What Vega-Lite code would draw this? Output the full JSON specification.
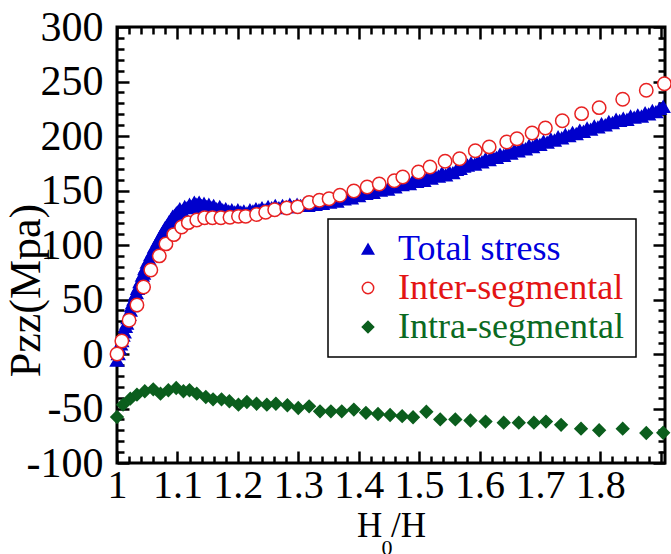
{
  "$schema": "https://vega.github.io/schema/vega-lite/v6.json",
  "width": 548,
  "height": 436,
  "autosize": "none",
  "padding": {"left": 117, "top": 27, "right": 6, "bottom": 91},
  "config": {
    "view": {"stroke": "black", "strokeWidth": 3},
    "font": "Liberation Serif",
    "legend": {"strokeWidth": 1.5}
  },
  "title": {"text": "0", "orient": "bottom", "font": "Liberation Serif", "fontSize": 22, "fontWeight": "normal", "color": "black", "offset": -5, "dx": -4},
  "data": {"values": [
    {"series": "Total stress", "ratio": 1.000, "pzz": -6},
    {"series": "Total stress", "ratio": 1.002, "pzz": 0},
    {"series": "Total stress", "ratio": 1.004, "pzz": 5},
    {"series": "Total stress", "ratio": 1.006, "pzz": 9},
    {"series": "Total stress", "ratio": 1.008, "pzz": 12},
    {"series": "Total stress", "ratio": 1.010, "pzz": 17},
    {"series": "Total stress", "ratio": 1.012, "pzz": 20},
    {"series": "Total stress", "ratio": 1.014, "pzz": 25},
    {"series": "Total stress", "ratio": 1.016, "pzz": 28},
    {"series": "Total stress", "ratio": 1.018, "pzz": 33},
    {"series": "Total stress", "ratio": 1.020, "pzz": 36},
    {"series": "Total stress", "ratio": 1.022, "pzz": 40},
    {"series": "Total stress", "ratio": 1.024, "pzz": 44},
    {"series": "Total stress", "ratio": 1.026, "pzz": 47},
    {"series": "Total stress", "ratio": 1.028, "pzz": 50},
    {"series": "Total stress", "ratio": 1.030, "pzz": 54},
    {"series": "Total stress", "ratio": 1.032, "pzz": 56},
    {"series": "Total stress", "ratio": 1.034, "pzz": 60},
    {"series": "Total stress", "ratio": 1.036, "pzz": 62},
    {"series": "Total stress", "ratio": 1.038, "pzz": 66},
    {"series": "Total stress", "ratio": 1.040, "pzz": 68},
    {"series": "Total stress", "ratio": 1.042, "pzz": 72},
    {"series": "Total stress", "ratio": 1.044, "pzz": 74},
    {"series": "Total stress", "ratio": 1.046, "pzz": 78},
    {"series": "Total stress", "ratio": 1.048, "pzz": 80},
    {"series": "Total stress", "ratio": 1.050, "pzz": 84},
    {"series": "Total stress", "ratio": 1.053, "pzz": 87},
    {"series": "Total stress", "ratio": 1.056, "pzz": 91},
    {"series": "Total stress", "ratio": 1.059, "pzz": 94},
    {"series": "Total stress", "ratio": 1.062, "pzz": 98},
    {"series": "Total stress", "ratio": 1.065, "pzz": 100},
    {"series": "Total stress", "ratio": 1.068, "pzz": 104},
    {"series": "Total stress", "ratio": 1.071, "pzz": 107},
    {"series": "Total stress", "ratio": 1.074, "pzz": 110},
    {"series": "Total stress", "ratio": 1.077, "pzz": 113},
    {"series": "Total stress", "ratio": 1.080, "pzz": 116},
    {"series": "Total stress", "ratio": 1.083, "pzz": 118},
    {"series": "Total stress", "ratio": 1.086, "pzz": 121},
    {"series": "Total stress", "ratio": 1.089, "pzz": 123},
    {"series": "Total stress", "ratio": 1.092, "pzz": 126},
    {"series": "Total stress", "ratio": 1.095, "pzz": 127},
    {"series": "Total stress", "ratio": 1.098, "pzz": 129},
    {"series": "Total stress", "ratio": 1.100, "pzz": 130},
    {"series": "Total stress", "ratio": 1.104, "pzz": 133},
    {"series": "Total stress", "ratio": 1.108, "pzz": 131},
    {"series": "Total stress", "ratio": 1.112, "pzz": 135},
    {"series": "Total stress", "ratio": 1.116, "pzz": 134},
    {"series": "Total stress", "ratio": 1.120, "pzz": 137},
    {"series": "Total stress", "ratio": 1.124, "pzz": 135},
    {"series": "Total stress", "ratio": 1.128, "pzz": 139},
    {"series": "Total stress", "ratio": 1.132, "pzz": 137},
    {"series": "Total stress", "ratio": 1.136, "pzz": 139},
    {"series": "Total stress", "ratio": 1.140, "pzz": 136},
    {"series": "Total stress", "ratio": 1.144, "pzz": 138},
    {"series": "Total stress", "ratio": 1.148, "pzz": 135},
    {"series": "Total stress", "ratio": 1.152, "pzz": 137},
    {"series": "Total stress", "ratio": 1.156, "pzz": 134},
    {"series": "Total stress", "ratio": 1.160, "pzz": 136},
    {"series": "Total stress", "ratio": 1.165, "pzz": 133},
    {"series": "Total stress", "ratio": 1.170, "pzz": 135},
    {"series": "Total stress", "ratio": 1.175, "pzz": 132},
    {"series": "Total stress", "ratio": 1.180, "pzz": 133},
    {"series": "Total stress", "ratio": 1.185, "pzz": 131},
    {"series": "Total stress", "ratio": 1.190, "pzz": 132},
    {"series": "Total stress", "ratio": 1.195, "pzz": 130},
    {"series": "Total stress", "ratio": 1.200, "pzz": 132},
    {"series": "Total stress", "ratio": 1.205, "pzz": 130},
    {"series": "Total stress", "ratio": 1.210, "pzz": 131},
    {"series": "Total stress", "ratio": 1.215, "pzz": 129},
    {"series": "Total stress", "ratio": 1.220, "pzz": 132},
    {"series": "Total stress", "ratio": 1.225, "pzz": 131},
    {"series": "Total stress", "ratio": 1.230, "pzz": 133},
    {"series": "Total stress", "ratio": 1.235, "pzz": 132},
    {"series": "Total stress", "ratio": 1.240, "pzz": 134},
    {"series": "Total stress", "ratio": 1.245, "pzz": 132},
    {"series": "Total stress", "ratio": 1.250, "pzz": 135},
    {"series": "Total stress", "ratio": 1.256, "pzz": 134},
    {"series": "Total stress", "ratio": 1.262, "pzz": 136},
    {"series": "Total stress", "ratio": 1.268, "pzz": 134},
    {"series": "Total stress", "ratio": 1.274, "pzz": 136},
    {"series": "Total stress", "ratio": 1.280, "pzz": 135},
    {"series": "Total stress", "ratio": 1.286, "pzz": 137},
    {"series": "Total stress", "ratio": 1.292, "pzz": 135},
    {"series": "Total stress", "ratio": 1.298, "pzz": 137},
    {"series": "Total stress", "ratio": 1.304, "pzz": 136},
    {"series": "Total stress", "ratio": 1.310, "pzz": 138},
    {"series": "Total stress", "ratio": 1.316, "pzz": 136},
    {"series": "Total stress", "ratio": 1.322, "pzz": 138},
    {"series": "Total stress", "ratio": 1.328, "pzz": 137},
    {"series": "Total stress", "ratio": 1.334, "pzz": 139},
    {"series": "Total stress", "ratio": 1.340, "pzz": 138},
    {"series": "Total stress", "ratio": 1.346, "pzz": 140},
    {"series": "Total stress", "ratio": 1.352, "pzz": 139},
    {"series": "Total stress", "ratio": 1.358, "pzz": 141},
    {"series": "Total stress", "ratio": 1.364, "pzz": 140},
    {"series": "Total stress", "ratio": 1.370, "pzz": 143},
    {"series": "Total stress", "ratio": 1.376, "pzz": 142},
    {"series": "Total stress", "ratio": 1.382, "pzz": 144},
    {"series": "Total stress", "ratio": 1.388, "pzz": 143},
    {"series": "Total stress", "ratio": 1.394, "pzz": 146},
    {"series": "Total stress", "ratio": 1.400, "pzz": 145},
    {"series": "Total stress", "ratio": 1.406, "pzz": 148},
    {"series": "Total stress", "ratio": 1.412, "pzz": 147},
    {"series": "Total stress", "ratio": 1.418, "pzz": 149},
    {"series": "Total stress", "ratio": 1.424, "pzz": 148},
    {"series": "Total stress", "ratio": 1.430, "pzz": 151},
    {"series": "Total stress", "ratio": 1.436, "pzz": 150},
    {"series": "Total stress", "ratio": 1.442, "pzz": 153},
    {"series": "Total stress", "ratio": 1.448, "pzz": 151},
    {"series": "Total stress", "ratio": 1.454, "pzz": 154},
    {"series": "Total stress", "ratio": 1.460, "pzz": 153},
    {"series": "Total stress", "ratio": 1.466, "pzz": 156},
    {"series": "Total stress", "ratio": 1.472, "pzz": 155},
    {"series": "Total stress", "ratio": 1.478, "pzz": 158},
    {"series": "Total stress", "ratio": 1.484, "pzz": 156},
    {"series": "Total stress", "ratio": 1.490, "pzz": 159},
    {"series": "Total stress", "ratio": 1.496, "pzz": 158},
    {"series": "Total stress", "ratio": 1.502, "pzz": 161},
    {"series": "Total stress", "ratio": 1.508, "pzz": 159},
    {"series": "Total stress", "ratio": 1.514, "pzz": 162},
    {"series": "Total stress", "ratio": 1.520, "pzz": 161},
    {"series": "Total stress", "ratio": 1.526, "pzz": 164},
    {"series": "Total stress", "ratio": 1.532, "pzz": 163},
    {"series": "Total stress", "ratio": 1.538, "pzz": 166},
    {"series": "Total stress", "ratio": 1.544, "pzz": 164},
    {"series": "Total stress", "ratio": 1.550, "pzz": 167},
    {"series": "Total stress", "ratio": 1.556, "pzz": 166},
    {"series": "Total stress", "ratio": 1.562, "pzz": 169},
    {"series": "Total stress", "ratio": 1.568, "pzz": 170},
    {"series": "Total stress", "ratio": 1.574, "pzz": 172},
    {"series": "Total stress", "ratio": 1.580, "pzz": 173},
    {"series": "Total stress", "ratio": 1.586, "pzz": 175},
    {"series": "Total stress", "ratio": 1.592, "pzz": 174},
    {"series": "Total stress", "ratio": 1.598, "pzz": 177},
    {"series": "Total stress", "ratio": 1.604, "pzz": 176},
    {"series": "Total stress", "ratio": 1.610, "pzz": 179},
    {"series": "Total stress", "ratio": 1.616, "pzz": 178},
    {"series": "Total stress", "ratio": 1.622, "pzz": 181},
    {"series": "Total stress", "ratio": 1.628, "pzz": 180},
    {"series": "Total stress", "ratio": 1.634, "pzz": 183},
    {"series": "Total stress", "ratio": 1.640, "pzz": 182},
    {"series": "Total stress", "ratio": 1.646, "pzz": 185},
    {"series": "Total stress", "ratio": 1.652, "pzz": 184},
    {"series": "Total stress", "ratio": 1.658, "pzz": 187},
    {"series": "Total stress", "ratio": 1.664, "pzz": 186},
    {"series": "Total stress", "ratio": 1.670, "pzz": 189},
    {"series": "Total stress", "ratio": 1.676, "pzz": 188},
    {"series": "Total stress", "ratio": 1.682, "pzz": 191},
    {"series": "Total stress", "ratio": 1.688, "pzz": 190},
    {"series": "Total stress", "ratio": 1.694, "pzz": 193},
    {"series": "Total stress", "ratio": 1.700, "pzz": 192},
    {"series": "Total stress", "ratio": 1.706, "pzz": 195},
    {"series": "Total stress", "ratio": 1.712, "pzz": 194},
    {"series": "Total stress", "ratio": 1.718, "pzz": 197},
    {"series": "Total stress", "ratio": 1.724, "pzz": 196},
    {"series": "Total stress", "ratio": 1.730, "pzz": 199},
    {"series": "Total stress", "ratio": 1.736, "pzz": 198},
    {"series": "Total stress", "ratio": 1.742, "pzz": 201},
    {"series": "Total stress", "ratio": 1.748, "pzz": 200},
    {"series": "Total stress", "ratio": 1.754, "pzz": 203},
    {"series": "Total stress", "ratio": 1.760, "pzz": 202},
    {"series": "Total stress", "ratio": 1.766, "pzz": 205},
    {"series": "Total stress", "ratio": 1.772, "pzz": 204},
    {"series": "Total stress", "ratio": 1.778, "pzz": 207},
    {"series": "Total stress", "ratio": 1.784, "pzz": 206},
    {"series": "Total stress", "ratio": 1.790, "pzz": 209},
    {"series": "Total stress", "ratio": 1.796, "pzz": 208},
    {"series": "Total stress", "ratio": 1.802, "pzz": 211},
    {"series": "Total stress", "ratio": 1.808, "pzz": 210},
    {"series": "Total stress", "ratio": 1.814, "pzz": 213},
    {"series": "Total stress", "ratio": 1.820, "pzz": 212},
    {"series": "Total stress", "ratio": 1.826, "pzz": 215},
    {"series": "Total stress", "ratio": 1.832, "pzz": 214},
    {"series": "Total stress", "ratio": 1.838, "pzz": 216},
    {"series": "Total stress", "ratio": 1.844, "pzz": 215},
    {"series": "Total stress", "ratio": 1.850, "pzz": 218},
    {"series": "Total stress", "ratio": 1.856, "pzz": 217},
    {"series": "Total stress", "ratio": 1.862, "pzz": 219},
    {"series": "Total stress", "ratio": 1.868, "pzz": 218},
    {"series": "Total stress", "ratio": 1.874, "pzz": 221},
    {"series": "Total stress", "ratio": 1.880, "pzz": 220},
    {"series": "Total stress", "ratio": 1.886, "pzz": 223},
    {"series": "Total stress", "ratio": 1.892, "pzz": 222},
    {"series": "Total stress", "ratio": 1.898, "pzz": 225},
    {"series": "Total stress", "ratio": 1.904, "pzz": 227},
    {"series": "Inter-segmental", "ratio": 1.000, "pzz": 0},
    {"series": "Inter-segmental", "ratio": 1.008, "pzz": 12},
    {"series": "Inter-segmental", "ratio": 1.020, "pzz": 31},
    {"series": "Inter-segmental", "ratio": 1.033, "pzz": 45},
    {"series": "Inter-segmental", "ratio": 1.044, "pzz": 61.5},
    {"series": "Inter-segmental", "ratio": 1.056, "pzz": 77},
    {"series": "Inter-segmental", "ratio": 1.070, "pzz": 90},
    {"series": "Inter-segmental", "ratio": 1.081, "pzz": 101},
    {"series": "Inter-segmental", "ratio": 1.094, "pzz": 109.5},
    {"series": "Inter-segmental", "ratio": 1.107, "pzz": 116.5},
    {"series": "Inter-segmental", "ratio": 1.118, "pzz": 120.5},
    {"series": "Inter-segmental", "ratio": 1.132, "pzz": 123},
    {"series": "Inter-segmental", "ratio": 1.145, "pzz": 125},
    {"series": "Inter-segmental", "ratio": 1.158, "pzz": 125},
    {"series": "Inter-segmental", "ratio": 1.172, "pzz": 125},
    {"series": "Inter-segmental", "ratio": 1.187, "pzz": 125.5},
    {"series": "Inter-segmental", "ratio": 1.201, "pzz": 126.3},
    {"series": "Inter-segmental", "ratio": 1.213, "pzz": 126.3},
    {"series": "Inter-segmental", "ratio": 1.231, "pzz": 128},
    {"series": "Inter-segmental", "ratio": 1.246, "pzz": 130},
    {"series": "Inter-segmental", "ratio": 1.261, "pzz": 132.4},
    {"series": "Inter-segmental", "ratio": 1.281, "pzz": 134},
    {"series": "Inter-segmental", "ratio": 1.299, "pzz": 135},
    {"series": "Inter-segmental", "ratio": 1.318, "pzz": 139},
    {"series": "Inter-segmental", "ratio": 1.335, "pzz": 141},
    {"series": "Inter-segmental", "ratio": 1.351, "pzz": 142.5},
    {"series": "Inter-segmental", "ratio": 1.369, "pzz": 145.6},
    {"series": "Inter-segmental", "ratio": 1.392, "pzz": 149.5},
    {"series": "Inter-segmental", "ratio": 1.414, "pzz": 153.2},
    {"series": "Inter-segmental", "ratio": 1.434, "pzz": 156},
    {"series": "Inter-segmental", "ratio": 1.459, "pzz": 159},
    {"series": "Inter-segmental", "ratio": 1.473, "pzz": 162.4},
    {"series": "Inter-segmental", "ratio": 1.499, "pzz": 167},
    {"series": "Inter-segmental", "ratio": 1.518, "pzz": 171.6},
    {"series": "Inter-segmental", "ratio": 1.543, "pzz": 176.8},
    {"series": "Inter-segmental", "ratio": 1.567, "pzz": 179.2},
    {"series": "Inter-segmental", "ratio": 1.593, "pzz": 186.5},
    {"series": "Inter-segmental", "ratio": 1.616, "pzz": 190},
    {"series": "Inter-segmental", "ratio": 1.645, "pzz": 194.5},
    {"series": "Inter-segmental", "ratio": 1.662, "pzz": 197.5},
    {"series": "Inter-segmental", "ratio": 1.687, "pzz": 202.8},
    {"series": "Inter-segmental", "ratio": 1.709, "pzz": 207.3},
    {"series": "Inter-segmental", "ratio": 1.737, "pzz": 214},
    {"series": "Inter-segmental", "ratio": 1.769, "pzz": 220.5},
    {"series": "Inter-segmental", "ratio": 1.798, "pzz": 226},
    {"series": "Inter-segmental", "ratio": 1.837, "pzz": 233.7},
    {"series": "Inter-segmental", "ratio": 1.876, "pzz": 242},
    {"series": "Inter-segmental", "ratio": 1.906, "pzz": 248},
    {"series": "Intra-segmental", "ratio": 1.000, "pzz": -57.8},
    {"series": "Intra-segmental", "ratio": 1.010, "pzz": -46.5},
    {"series": "Intra-segmental", "ratio": 1.022, "pzz": -41},
    {"series": "Intra-segmental", "ratio": 1.033, "pzz": -37.3},
    {"series": "Intra-segmental", "ratio": 1.046, "pzz": -34.2},
    {"series": "Intra-segmental", "ratio": 1.060, "pzz": -32.4},
    {"series": "Intra-segmental", "ratio": 1.072, "pzz": -36.4},
    {"series": "Intra-segmental", "ratio": 1.085, "pzz": -33.3},
    {"series": "Intra-segmental", "ratio": 1.098, "pzz": -31.2},
    {"series": "Intra-segmental", "ratio": 1.110, "pzz": -34.2},
    {"series": "Intra-segmental", "ratio": 1.120, "pzz": -33.3},
    {"series": "Intra-segmental", "ratio": 1.132, "pzz": -36.4},
    {"series": "Intra-segmental", "ratio": 1.147, "pzz": -39.4},
    {"series": "Intra-segmental", "ratio": 1.159, "pzz": -41.6},
    {"series": "Intra-segmental", "ratio": 1.173, "pzz": -41.6},
    {"series": "Intra-segmental", "ratio": 1.186, "pzz": -43.4},
    {"series": "Intra-segmental", "ratio": 1.201, "pzz": -46.5},
    {"series": "Intra-segmental", "ratio": 1.215, "pzz": -44},
    {"series": "Intra-segmental", "ratio": 1.231, "pzz": -45.6},
    {"series": "Intra-segmental", "ratio": 1.248, "pzz": -46.5},
    {"series": "Intra-segmental", "ratio": 1.263, "pzz": -45.6},
    {"series": "Intra-segmental", "ratio": 1.282, "pzz": -47},
    {"series": "Intra-segmental", "ratio": 1.300, "pzz": -49.5},
    {"series": "Intra-segmental", "ratio": 1.318, "pzz": -48},
    {"series": "Intra-segmental", "ratio": 1.336, "pzz": -52.6},
    {"series": "Intra-segmental", "ratio": 1.354, "pzz": -52.6},
    {"series": "Intra-segmental", "ratio": 1.372, "pzz": -52.6},
    {"series": "Intra-segmental", "ratio": 1.392, "pzz": -51},
    {"series": "Intra-segmental", "ratio": 1.412, "pzz": -54},
    {"series": "Intra-segmental", "ratio": 1.432, "pzz": -55},
    {"series": "Intra-segmental", "ratio": 1.452, "pzz": -56},
    {"series": "Intra-segmental", "ratio": 1.472, "pzz": -57},
    {"series": "Intra-segmental", "ratio": 1.490, "pzz": -58},
    {"series": "Intra-segmental", "ratio": 1.512, "pzz": -53},
    {"series": "Intra-segmental", "ratio": 1.535, "pzz": -60},
    {"series": "Intra-segmental", "ratio": 1.560, "pzz": -60},
    {"series": "Intra-segmental", "ratio": 1.585, "pzz": -61},
    {"series": "Intra-segmental", "ratio": 1.610, "pzz": -62},
    {"series": "Intra-segmental", "ratio": 1.640, "pzz": -63},
    {"series": "Intra-segmental", "ratio": 1.665, "pzz": -63},
    {"series": "Intra-segmental", "ratio": 1.690, "pzz": -63},
    {"series": "Intra-segmental", "ratio": 1.710, "pzz": -62},
    {"series": "Intra-segmental", "ratio": 1.735, "pzz": -65},
    {"series": "Intra-segmental", "ratio": 1.768, "pzz": -68.5},
    {"series": "Intra-segmental", "ratio": 1.798, "pzz": -70},
    {"series": "Intra-segmental", "ratio": 1.837, "pzz": -68.5},
    {"series": "Intra-segmental", "ratio": 1.876, "pzz": -72.5},
    {"series": "Intra-segmental", "ratio": 1.904, "pzz": -72.2}
  ]},
  "layer": [
    {
      "transform": [{"filter": "datum.series != 'Intra-segmental'"}],
      "mark": {"type": "point", "opacity": 1, "strokeWidth": 1.5},
      "encoding": {
        "x": {
          "field": "ratio", "type": "quantitative",
          "scale": {"domain": [1, 1.907], "nice": false, "zero": false},
          "axis": {
            "orient": "bottom",
            "values": [1,1.02,1.04,1.06,1.08,1.1,1.12,1.14,1.16,1.18,1.2,1.22,1.24,1.26,1.28,1.3,1.32,1.34,1.36,1.38,1.4,1.42,1.44,1.46,1.48,1.5,1.52,1.54,1.56,1.58,1.6,1.62,1.64,1.66,1.68,1.7,1.72,1.74,1.76,1.78,1.8,1.82,1.84,1.86,1.88,1.9],
            "domain": false, "grid": false,
            "tickColor": "black", "tickWidth": 2.5,
            "tickSize": {"condition": {"test": "abs(datum.value*10 - round(datum.value*10)) < 0.001", "value": -12}, "value": -7},
            "labelExpr": "abs(datum.value*10 - round(datum.value*10)) < 0.001 && datum.value < 1.85 ? toString(datum.value) : ''",
            "labelFont": "Liberation Serif", "labelFontSize": 40, "labelColor": "black",
            "labelPadding": 14, "labelFlush": false, "labelOverlap": false,
            "title": "H /H", "titleFont": "Liberation Serif", "titleFontSize": 35, "titleFontWeight": "normal", "titleColor": "black", "titlePadding": -2
          }
        },
        "y": {
          "field": "pzz", "type": "quantitative",
          "scale": {"domain": [-100, 300], "nice": false, "zero": false},
          "axis": {
            "orient": "left",
            "values": [-100,-90,-80,-70,-60,-50,-40,-30,-20,-10,0,10,20,30,40,50,60,70,80,90,100,110,120,130,140,150,160,170,180,190,200,210,220,230,240,250,260,270,280,290,300],
            "domain": false, "grid": false,
            "tickColor": "black", "tickWidth": 2.5,
            "tickSize": {"condition": {"test": "datum.value % 50 == 0", "value": -12}, "value": -7},
            "labelExpr": "datum.value % 50 == 0 ? toString(datum.value) : ''",
            "labelFont": "Liberation Serif", "labelFontSize": 42, "labelColor": "black",
            "labelPadding": 26, "labelFlush": false, "labelOverlap": false,
            "title": "Pzz(Mpa)", "titleFont": "Liberation Serif", "titleFontSize": 44, "titleFontWeight": "normal", "titleColor": "black",
            "titleX": -91, "titleY": 263, "titleBaseline": "middle", "titleAngle": 270, "titleAlign": "center"
          }
        },
        "fill": {
          "field": "series", "type": "nominal",
          "scale": {"domain": ["Total stress", "Inter-segmental", "Intra-segmental"], "range": ["#0000cc", "#ffffff", "#0b5e1d"]},
          "legend": {"orient": "none", "legendX": 211, "legendY": 192, "title": null, "padding": 12, "strokeColor": "black", "fillColor": "white", "symbolSize": 130, "symbolStrokeWidth": 1.5, "symbolOffset": 10, "labelOffset": 12, "labelFont": "Liberation Serif", "labelFontSize": 36, "labelLimit": 400, "rowPadding": 3, "labelColor": {"expr": "datum.value == 'Total stress' ? '#0000dd' : datum.value == 'Inter-segmental' ? '#e31414' : '#0b6a22'"}}
        },
        "stroke": {
          "field": "series", "type": "nominal",
          "scale": {"domain": ["Total stress", "Inter-segmental", "Intra-segmental"], "range": ["#0000cc", "#e82222", "#0b5e1d"]},
          "legend": {"orient": "none", "legendX": 211, "legendY": 192, "title": null, "padding": 12, "strokeColor": "black", "fillColor": "white", "symbolSize": 130, "symbolStrokeWidth": 1.5, "symbolOffset": 10, "labelOffset": 12, "labelFont": "Liberation Serif", "labelFontSize": 36, "labelLimit": 400, "rowPadding": 3, "labelColor": {"expr": "datum.value == 'Total stress' ? '#0000dd' : datum.value == 'Inter-segmental' ? '#e31414' : '#0b6a22'"}}
        },
        "shape": {
          "field": "series", "type": "nominal",
          "scale": {"domain": ["Total stress", "Inter-segmental", "Intra-segmental"], "range": ["triangle-up", "circle", "diamond"]},
          "legend": {"orient": "none", "legendX": 211, "legendY": 192, "title": null, "padding": 12, "strokeColor": "black", "fillColor": "white", "symbolSize": 130, "symbolStrokeWidth": 1.5, "symbolOffset": 10, "labelOffset": 12, "labelFont": "Liberation Serif", "labelFontSize": 36, "labelLimit": 400, "rowPadding": 3, "labelColor": {"expr": "datum.value == 'Total stress' ? '#0000dd' : datum.value == 'Inter-segmental' ? '#e31414' : '#0b6a22'"}}
        },
        "size": {
          "field": "series", "type": "nominal",
          "scale": {"domain": ["Inter-segmental", "Total stress", "Intra-segmental"], "range": [180, 150, 210]},
          "legend": null
        }
      }
    },
    {
      "transform": [{"filter": "datum.series == 'Intra-segmental'"}],
      "mark": {"type": "point", "opacity": 1, "strokeWidth": 1.5},
      "encoding": {
        "x": {
          "field": "ratio", "type": "quantitative",
          "scale": {"domain": [1, 1.907], "nice": false, "zero": false},
          "axis": {
            "orient": "top",
            "values": [1,1.02,1.04,1.06,1.08,1.1,1.12,1.14,1.16,1.18,1.2,1.22,1.24,1.26,1.28,1.3,1.32,1.34,1.36,1.38,1.4,1.42,1.44,1.46,1.48,1.5,1.52,1.54,1.56,1.58,1.6,1.62,1.64,1.66,1.68,1.7,1.72,1.74,1.76,1.78,1.8,1.82,1.84,1.86,1.88,1.9],
            "domain": false, "grid": false, "labels": false, "title": null,
            "tickColor": "black", "tickWidth": 2.5,
            "tickSize": {"condition": {"test": "abs(datum.value*10 - round(datum.value*10)) < 0.001", "value": -12}, "value": -7}
          }
        },
        "y": {
          "field": "pzz", "type": "quantitative",
          "scale": {"domain": [-100, 300], "nice": false, "zero": false},
          "axis": {
            "orient": "right",
            "values": [-100,-90,-80,-70,-60,-50,-40,-30,-20,-10,0,10,20,30,40,50,60,70,80,90,100,110,120,130,140,150,160,170,180,190,200,210,220,230,240,250,260,270,280,290,300],
            "domain": false, "grid": false, "labels": false, "title": null,
            "tickColor": "black", "tickWidth": 2.5,
            "tickSize": {"condition": {"test": "datum.value % 50 == 0", "value": -12}, "value": -7}
          }
        },
        "fill": {
          "field": "series", "type": "nominal",
          "scale": {"domain": ["Total stress", "Inter-segmental", "Intra-segmental"], "range": ["#0000cc", "#ffffff", "#0b5e1d"]},
          "legend": {"orient": "none", "legendX": 211, "legendY": 192, "title": null, "padding": 12, "strokeColor": "black", "fillColor": "white", "symbolSize": 130, "symbolStrokeWidth": 1.5, "symbolOffset": 10, "labelOffset": 12, "labelFont": "Liberation Serif", "labelFontSize": 36, "labelLimit": 400, "rowPadding": 3, "labelColor": {"expr": "datum.value == 'Total stress' ? '#0000dd' : datum.value == 'Inter-segmental' ? '#e31414' : '#0b6a22'"}}
        },
        "stroke": {
          "field": "series", "type": "nominal",
          "scale": {"domain": ["Total stress", "Inter-segmental", "Intra-segmental"], "range": ["#0000cc", "#e82222", "#0b5e1d"]},
          "legend": {"orient": "none", "legendX": 211, "legendY": 192, "title": null, "padding": 12, "strokeColor": "black", "fillColor": "white", "symbolSize": 130, "symbolStrokeWidth": 1.5, "symbolOffset": 10, "labelOffset": 12, "labelFont": "Liberation Serif", "labelFontSize": 36, "labelLimit": 400, "rowPadding": 3, "labelColor": {"expr": "datum.value == 'Total stress' ? '#0000dd' : datum.value == 'Inter-segmental' ? '#e31414' : '#0b6a22'"}}
        },
        "shape": {
          "field": "series", "type": "nominal",
          "scale": {"domain": ["Total stress", "Inter-segmental", "Intra-segmental"], "range": ["triangle-up", "circle", "diamond"]},
          "legend": {"orient": "none", "legendX": 211, "legendY": 192, "title": null, "padding": 12, "strokeColor": "black", "fillColor": "white", "symbolSize": 130, "symbolStrokeWidth": 1.5, "symbolOffset": 10, "labelOffset": 12, "labelFont": "Liberation Serif", "labelFontSize": 36, "labelLimit": 400, "rowPadding": 3, "labelColor": {"expr": "datum.value == 'Total stress' ? '#0000dd' : datum.value == 'Inter-segmental' ? '#e31414' : '#0b6a22'"}}
        },
        "size": {
          "field": "series", "type": "nominal",
          "scale": {"domain": ["Inter-segmental", "Total stress", "Intra-segmental"], "range": [180, 150, 210]},
          "legend": null
        }
      }
    }
  ],
  "resolve": {"axis": {"x": "independent", "y": "independent"}}
}
